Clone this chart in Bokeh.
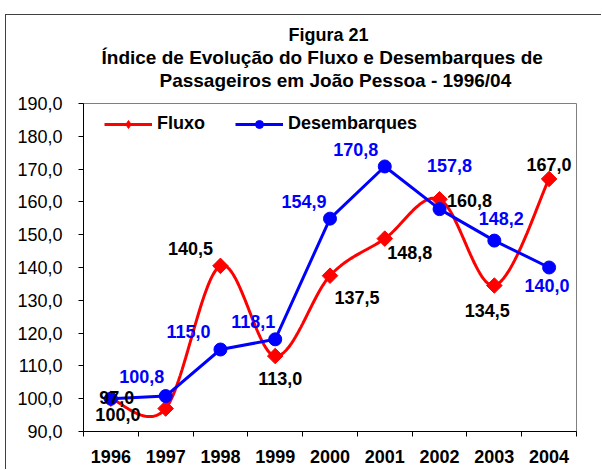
import numpy as np
from bokeh.plotting import figure
from bokeh.models import (Range1d, FixedTicker, Title, Legend, LegendItem,
                          ColumnDataSource)
from bokeh.embed import file_html
from bokeh.resources import INLINE
from bokeh.core.properties import value

# ---------------- data ----------------
years = ["1996", "1997", "1998", "1999", "2000", "2001", "2002", "2003", "2004"]
fluxo = [100.0, 97.0, 140.5, 113.0, 137.5, 148.8, 160.8, 134.5, 167.0]
desembarques = [100.0, 100.8, 115.0, 118.1, 154.9, 170.8, 157.8, 148.2, 140.0]
fluxo_labels = ["100,0", "97,0", "140,5", "113,0", "137,5", "148,8", "160,8", "134,5", "167,0"]
desemb_labels = ["", "100,8", "115,0", "118,1", "154,9", "170,8", "157,8", "148,2", "140,0"]
y_ticks = [90, 100, 110, 120, 130, 140, 150, 160, 170, 180, 190]
title_lines = ["Figura 21",
               "Índice de Evolução do Fluxo e Desembarques de",
               "Passageiros em João Pessoa - 1996/04"]

# ---------------- label placement (style, px) ----------------
fluxo_dx = [7, -49, -30, 5, 27, 25, 30, -7, 0]
fluxo_dy = [16, -11, -17, 22, 22, 14, 1, 25, -14]
desemb_dx = [0, -24, -32, -22, -26, -29, 10, 7, -2]
desemb_dy = [0, -20, -18, -18, -17, -17, -44, -22, 18]

FONT = "Liberation Sans"
RED = "#FF0000"
BLUE = "#0000FF"

n = len(years)
xpos = np.arange(n) + 0.5  # category centres on a 0..n axis


def smooth(xs, ys, steps=30):
    """Bezier smoothing (Excel-style 'smoothed line') through the points."""
    P = np.column_stack([xs, ys]).astype(float)
    out = [P[0]]
    for i in range(len(P) - 1):
        p0 = P[i - 1] if i > 0 else P[i]
        p1 = P[i]
        p2 = P[i + 1]
        p3 = P[i + 2] if i + 2 < len(P) else P[i + 1]
        c1 = p1 + (p2 - p0) / 6.0
        c2 = p2 - (p3 - p1) / 6.0
        t = np.linspace(0, 1, steps + 1)[1:, None]
        seg = ((1 - t) ** 3) * p1 + 3 * ((1 - t) ** 2) * t * c1 + 3 * (1 - t) * t ** 2 * c2 + t ** 3 * p2
        out.extend(seg)
    out = np.array(out)
    return out[:, 0], out[:, 1]


W, H = 596, 455
p = figure(width=W, height=H, x_range=Range1d(0, n), y_range=Range1d(90, 190),
           output_backend="svg", toolbar_location=None, title=None,
           min_border_left=77, min_border_right=26, min_border_top=88,
           min_border_bottom=39)
p.styles = {"margin-left": "5px", "margin-top": "14px",
            "border-top": "1px solid #404040", "border-left": "1px solid #404040"}

p.background_fill_color = "white"
p.border_fill_color = "white"
p.outline_line_color = "#808080"
p.outline_line_width = 1
p.xgrid.grid_line_color = None
p.ygrid.grid_line_color = None

# titles, stacked from the frame upwards (spacer first); left offsets are styling
p.add_layout(Title(text=" ", text_font_size="10.4px", standoff=0), "above")
for txt, fs, off in [(title_lines[2], "19px", 76),
                     (title_lines[1], "19px", 18),
                     (title_lines[0], "18px", 205)]:
    p.add_layout(Title(text=txt, align="left", offset=off, text_font=FONT,
                       text_font_size=fs, text_font_style="bold",
                       text_color="black", standoff=0), "above")

# y axis
yax = p.yaxis[0]
yax.ticker = FixedTicker(ticks=y_ticks)
yax.major_label_overrides = {t: f"{t:.1f}".replace(".", ",") for t in y_ticks}
yax.major_label_text_font = FONT
yax.major_label_text_font_size = "18px"
yax.major_label_text_color = "black"
yax.major_tick_out = 5
yax.major_tick_in = 0
yax.major_label_standoff = 16
yax.minor_tick_line_color = None
yax.axis_line_color = "black"
yax.major_tick_line_color = "black"

# x axis
xax = p.xaxis[0]
xax.ticker = FixedTicker(ticks=list(xpos), minor_ticks=list(range(n + 1)))
xax.major_label_overrides = {float(x): y for x, y in zip(xpos, years)}
xax.major_label_text_font = FONT
xax.major_label_text_font_size = "18px"
xax.major_label_text_font_style = "bold"
xax.major_label_text_color = "black"
xax.major_tick_line_color = None
xax.major_tick_out = 0
xax.major_tick_in = 0
xax.major_label_standoff = 13
xax.minor_tick_out = 5
xax.minor_tick_in = 0
xax.minor_tick_line_color = "black"
xax.axis_line_color = "black"

# series
sx, sy = smooth(xpos, fluxo)
r_line = p.line(sx, sy, line_color=RED, line_width=3)
# diamond used for the legend key (hidden under the larger markers in the plot)
r_key = p.scatter(xpos, fluxo, marker="diamond", size=12, fill_color=RED, line_color=RED)
r_pts = p.scatter(xpos, fluxo, marker="square", angle=np.pi / 4, size=11,
                  fill_color=RED, line_color=RED)

b_line = p.line(xpos, desembarques, line_color=BLUE, line_width=3)
b_pts = p.scatter(xpos, desembarques, marker="circle", size=13, fill_color=BLUE, line_color=BLUE)

fsrc = ColumnDataSource(dict(x=xpos, y=fluxo, t=fluxo_labels, dx=fluxo_dx, dy=fluxo_dy))
p.text(x="x", y="y", text="t", x_offset="dx", y_offset="dy", source=fsrc,
       text_font=value(FONT), text_font_size="18px", text_font_style="bold",
       text_color="black", text_align="center", text_baseline="middle")
bsrc = ColumnDataSource(dict(x=xpos, y=desembarques, t=desemb_labels, dx=desemb_dx, dy=desemb_dy))
p.text(x="x", y="y", text="t", x_offset="dx", y_offset="dy", source=bsrc,
       text_font=value(FONT), text_font_size="18px", text_font_style="bold",
       text_color=BLUE, text_align="center", text_baseline="middle")

legend = Legend(items=[LegendItem(label="Fluxo", renderers=[r_line, r_key]),
                       LegendItem(label="Desembarques", renderers=[b_line, b_pts])],
                location=(21, 297), orientation="horizontal",
                glyph_width=48, glyph_height=20, label_standoff=5, spacing=30,
                padding=0, margin=0, border_line_color=None,
                background_fill_alpha=0,
                label_text_font=FONT, label_text_font_size="18px",
                label_text_font_style="bold", label_text_color="black")
p.add_layout(legend, "center")

open("out.html", "w").write(file_html(p, INLINE))
